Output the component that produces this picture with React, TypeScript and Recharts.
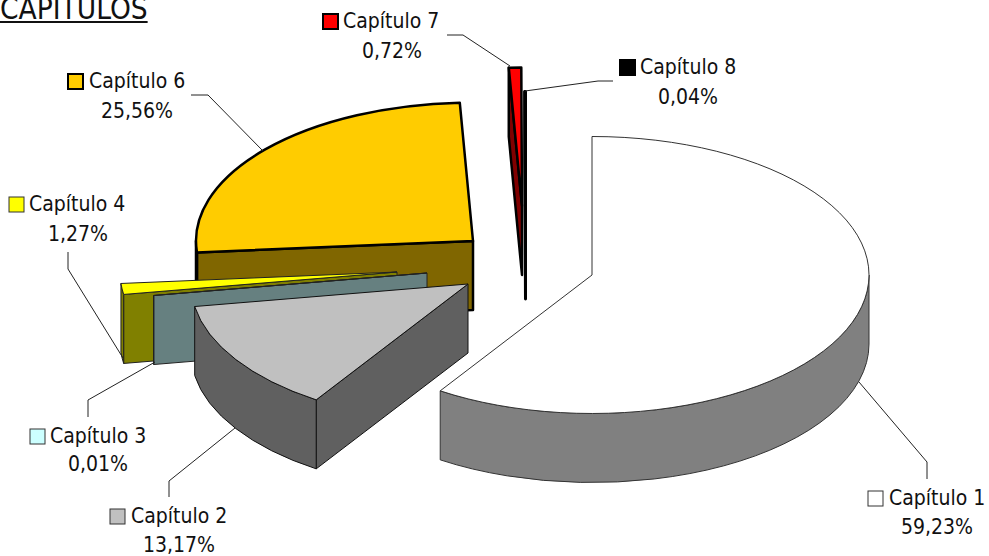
import React from 'react';
import { PieChart, Pie } from 'recharts';

// clockwise order, as in the source sheet
const categories = ['Capítulo 1', 'Capítulo 2', 'Capítulo 3', 'Capítulo 4', 'Capítulo 6', 'Capítulo 7', 'Capítulo 8'];
const shares = [59.23, 13.17, 0.01, 1.27, 25.56, 0.72, 0.04];

// reversed + counter-clockwise sweep gives the same angles but paints back slices first
const chartData = categories.map((name, i) => ({ name, value: shares[i] })).reverse();

const PIE_CX = 500;
const PIE_CY = 260;
const RADIUS = 277;
const SQUASH = 0.5;
const DEPTH = 69;
const FONT = '"DejaVu Sans Condensed", "DejaVu Sans", sans-serif';

const sliceStyles: Record<string, any> = {
  'Capítulo 1': { top: '#ffffff', side: '#808080', stroke: '#333333', width: 1, dx: 92, dy: 15 },
  'Capítulo 2': { top: '#c0c0c0', side: '#606060', stroke: '#111111', width: 1, dx: -32, dy: 24 },
  'Capítulo 3': { top: '#ccffff', side: '#668080', stroke: '#222222', width: 1, dx: -73, dy: 13 },
  'Capítulo 4': { top: '#ffff00', side: '#808000', stroke: '#222222', width: 1, dx: -103, dy: 12 },
  'Capítulo 6': { top: '#ffcc00', side: '#806600', stroke: '#000000', width: 2.5, dx: -27, dy: -19 },
  'Capítulo 7': { top: '#ff0000', side: '#800000', stroke: '#000000', width: 2.5, dx: 22, dy: -54 },
  'Capítulo 8': { top: '#000000', side: '#000000', stroke: '#000000', width: 3, dx: 25.5, dy: -30 },
};

const labelLayout: Record<string, any> = {
  'Capítulo 1': { swatch: [868, 491], text: [889, 505], pct: [937, 534], line: '859,382 927,462 927,479' },
  'Capítulo 2': { swatch: [110, 509], text: [131, 523], pct: [179, 552], line: '235,428 169,481 169,497' },
  'Capítulo 3': { swatch: [30, 429], text: [50, 443], pct: [98, 471], line: '155,362 88,400 88,417' },
  'Capítulo 4': { swatch: [9, 197], text: [29, 211], pct: [78, 241], line: '68,252 68,269 123,358' },
  'Capítulo 6': { swatch: [68, 74], text: [89, 88], pct: [137, 118], line: '191,95 208,95 263,151' },
  'Capítulo 7': { swatch: [323, 14], text: [343, 28], pct: [392, 58], line: '447,35 463,35 510,66' },
  'Capítulo 8': { swatch: [620, 60], text: [640, 74], pct: [688, 104], line: '613,81 598,81 525,91' },
};

const renderSlice = (props: any) => {
  const { cx, cy, outerRadius, startAngle, endAngle, name, payload } = props;
  const st = sliceStyles[name ?? payload?.name];
  const ax = cx + st.dx;
  const ay = cy + st.dy;
  const pt = (deg: number, drop = 0): [number, number] => {
    const r = (deg * Math.PI) / 180;
    return [ax + outerRadius * Math.cos(r), ay - outerRadius * SQUASH * Math.sin(r) + drop];
  };
  const rx = outerRadius;
  const ry = outerRadius * SQUASH;
  const from = Math.min(startAngle, endAngle);
  const to = Math.max(startAngle, endAngle);
  const [x1, y1] = pt(from);
  const [x2, y2] = pt(to);
  const large = to - from > 180 ? 1 : 0;

  // front of the rim only shows between 180 and 360 degrees
  const frontFrom = Math.max(from, 180);
  const frontTo = Math.min(to, 360);
  let rim = null;
  if (frontTo > frontFrom) {
    const [a, b] = pt(frontFrom);
    const [c, d] = pt(frontTo);
    const [e, f] = pt(frontTo, DEPTH);
    const [g, h] = pt(frontFrom, DEPTH);
    rim = `M${a},${b} A${rx},${ry} 0 0 0 ${c},${d} L${e},${f} A${rx},${ry} 0 0 1 ${g},${h} Z`;
  }

  // radial walls, only when they face the viewer
  const wall = (deg: number) => {
    const [a, b] = pt(deg);
    return `M${ax},${ay} L${a},${b} L${a},${b + DEPTH} L${ax},${ay + DEPTH} Z`;
  };
  const showFromWall = Math.cos((from * Math.PI) / 180) > 0.001;
  const showToWall = Math.cos((to * Math.PI) / 180) < -0.001;

  const paint = { stroke: st.stroke, strokeWidth: st.width, strokeLinejoin: 'round' as const };
  return (
    <g>
      {showFromWall && <path d={wall(from)} fill={st.side} {...paint} />}
      {showToWall && <path d={wall(to)} fill={st.side} {...paint} />}
      {rim && <path d={rim} fill={st.side} {...paint} />}
      <path d={`M${ax},${ay} L${x1},${y1} A${rx},${ry} 0 ${large} 0 ${x2},${y2} Z`} fill={st.top} {...paint} />
    </g>
  );
};

const renderLabel = (props: any) => {
  const name = props.name ?? props.payload?.name;
  const lay = labelLayout[name];
  const st = sliceStyles[name];
  const pct = Number(props.value).toFixed(2).replace('.', ',') + '%';
  return (
    <g fontFamily={FONT} fontSize={21} fill="#111111">
      <polyline points={lay.line} fill="none" stroke="#222222" strokeWidth={1} />
      <rect x={lay.swatch[0]} y={lay.swatch[1]} width={15} height={15} fill={st.top} stroke={st.width > 1 ? '#000000' : '#333333'} strokeWidth={st.width > 1 ? 2 : 1} />
      <text x={lay.text[0]} y={lay.text[1]}>{name}</text>
      <text x={lay.pct[0]} y={lay.pct[1]} textAnchor="middle">{pct}</text>
    </g>
  );
};

export default function App() {
  return (
    <div style={{ position: 'absolute', left: 0, top: 0, width: 989, height: 556, overflow: 'hidden', background: '#ffffff' }}>
      <div style={{ position: 'absolute', left: 0, top: -7, fontFamily: FONT, fontSize: 29.5, lineHeight: '32px', color: '#111111', textDecoration: 'underline' }}>
        CAPÍTULOS
      </div>
      <PieChart width={989} height={556} margin={{ top: 0, right: 0, bottom: 0, left: 0 }}>
        <Pie
          data={chartData}
          dataKey="value"
          nameKey="name"
          cx={PIE_CX}
          cy={PIE_CY}
          innerRadius={0}
          outerRadius={RADIUS}
          startAngle={90}
          endAngle={450}
          paddingAngle={0}
          shape={renderSlice}
          label={renderLabel}
          labelLine={false}
          isAnimationActive={false}
        />
      </PieChart>
    </div>
  );
}
